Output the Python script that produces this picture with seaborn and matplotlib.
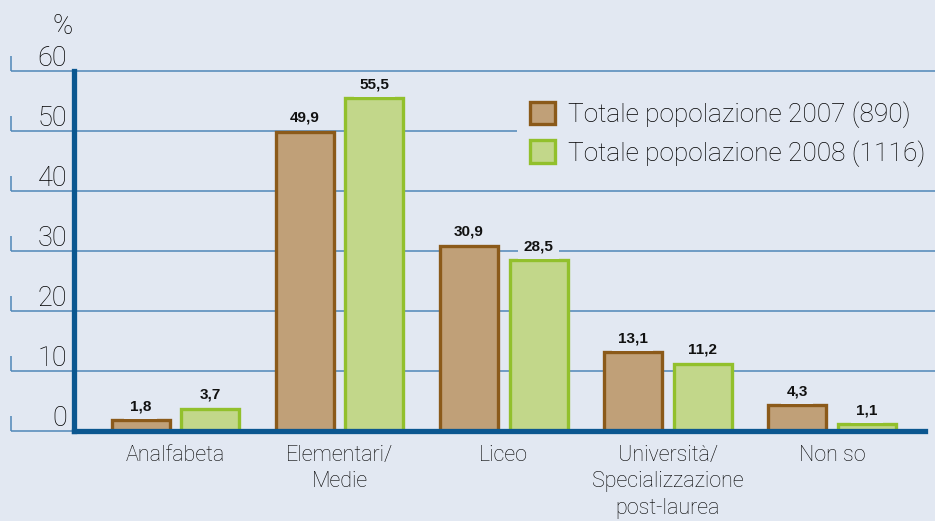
import pandas as pd
import matplotlib.pyplot as plt
import seaborn as sns
from matplotlib.patches import Patch

categories = ["Analfabeta", "Elementari/\nMedie", "Liceo",
              "Università/\nSpecializzazione\npost-laurea", "Non so"]
series = ["Totale popolazione 2007 (890)", "Totale popolazione 2008 (1116)"]
values_2007 = [1.8, 49.9, 30.9, 13.1, 4.3]
values_2008 = [3.7, 55.5, 28.5, 11.2, 1.1]
yticks = [0, 10, 20, 30, 40, 50, 60]

BG = "#E2E8F2"
GRID = "#4F87B8"
AXIS = "#0B5790"
TEXT = "#000000"
FILLS = ["#C0A078", "#C2D78A"]
EDGES = ["#8B5A1A", "#92C02C"]

df = pd.DataFrame({
    "categoria": categories * 2,
    "serie": [series[0]] * 5 + [series[1]] * 5,
    "valore": values_2007 + values_2008,
})

sns.set_style("white")
plt.rcParams["font.family"] = ["Roboto", "DejaVu Sans"]
plt.rcParams["font.weight"] = "light"

fig = plt.figure(figsize=(9.35, 5.21), dpi=100, facecolor=BG)
ax = fig.add_axes([74 / 935, 90 / 521, 851 / 935, 360 / 521])
ax.set_facecolor(BG)

sns.barplot(data=df, x="categoria", y="valore", hue="serie",
            palette=FILLS, saturation=1, width=0.85, gap=0.17, ax=ax,
            legend=False, linewidth=2.4, zorder=3)

for container, edge in zip(ax.containers, EDGES):
    for bar in container:
        bar.set_edgecolor(edge)
    ax.bar_label(container,
                 labels=[f"{b.get_height():.1f}".replace(".", ",") for b in container],
                 padding=5, fontsize=11, fontweight="bold", color="#111111",
                 family=["Liberation Sans Narrow", "Liberation Sans", "DejaVu Sans"],
                 bbox=dict(fc=BG, ec="none", pad=4), zorder=4)

ax.set_xlim(-0.618, 4.567)
ax.set_ylim(0, 60)

# gridlines run outside the plot area, with a small tick at the far left
ytr = ax.get_yaxis_transform()
ax.hlines(yticks[1:], -0.074, 1.02, transform=ytr, color=GRID, lw=1.1,
          clip_on=False, zorder=1)
ax.hlines([0], -0.074, 0, transform=ytr, color=GRID, lw=1.1,
          clip_on=False, zorder=1)
ax.vlines([-0.074] * len(yticks), [v for v in yticks],
          [v + 2.5 for v in yticks], transform=ytr, color=GRID, lw=1.1,
          clip_on=False, zorder=1)
for v in yticks:
    ax.text(-0.008, v + 0.75, str(v), transform=ytr, ha="right", va="baseline",
            fontsize=19.5, color=TEXT)
ax.text(-0.001, 66.2, "%", transform=ytr, ha="right", va="baseline",
        fontsize=19.5, color=TEXT)

ax.set_yticks([])
ax.set_xlabel("")
ax.set_ylabel("")
ax.tick_params(axis="x", length=0, pad=10, labelsize=15.5, colors=TEXT)
for lab in ax.get_xticklabels():
    lab.set_linespacing(1.34)

for side in ["top", "right"]:
    ax.spines[side].set_visible(False)
for side in ["left", "bottom"]:
    ax.spines[side].set_color(AXIS)
    ax.spines[side].set_linewidth(3.8)
    ax.spines[side].set_zorder(5)

handles = [Patch(facecolor=f, edgecolor=e, linewidth=2.4) for f, e in zip(FILLS, EDGES)]
leg = fig.legend(handles, series, loc="upper left",
                 bbox_to_anchor=(517 / 935, 1 - 88 / 521), fontsize=18.9,
                 frameon=True, facecolor=BG, edgecolor="none", framealpha=1,
                 handlelength=0.93, handleheight=0.93, handletextpad=0.5,
                 labelspacing=0.47, borderpad=0.5, borderaxespad=0,
                 fancybox=False)
for t in leg.get_texts():
    t.set_color(TEXT)

fig.savefig("out.png", dpi=100, facecolor=BG)
